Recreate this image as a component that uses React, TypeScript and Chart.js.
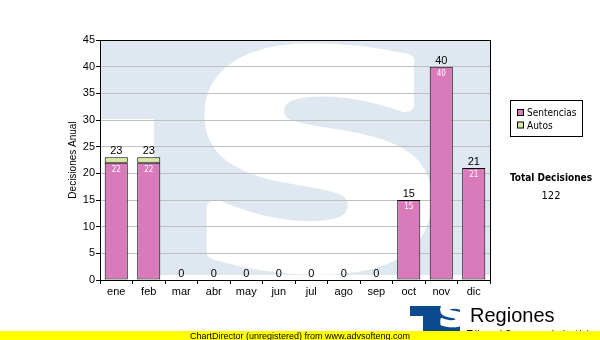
import React, { useEffect, useRef } from "react";
import { Chart, registerables } from "chart.js";
Chart.register(...registerables);

const categories = ["ene", "feb", "mar", "abr", "may", "jun", "jul", "ago", "sep", "oct", "nov", "dic"];
const sentencias = [22, 22, 0, 0, 0, 0, 0, 0, 0, 15, 40, 21];
const autos = [1, 1, 0, 0, 0, 0, 0, 0, 0, 0, 0, 0];
const seriesNames = ["Sentencias", "Autos"];
const seriesColors = ["#d97bbb", "#d6eb9e"];
const yMax = 45;
const yStep = 5;
const yTitle = "Decisiones Anual";
const totalTitle = "Total Decisiones";
const totalValue = 122;
const brandText = "Regiones";
const brandSub = "Tribunal Supremo de Justicia";
const footerText = "ChartDirector (unregistered) from www.advsofteng.com";

const SANS = '"Liberation Sans", Arial, sans-serif';
const VERD = '"DejaVu Sans Condensed", "DejaVu Sans", sans-serif';

function drawFatS(ctx: any, bx: number, by: number, bw: number, bh: number, stroke: number, color: string) {
  ctx.save();
  ctx.font = 'bold 300px "DejaVu Sans", sans-serif';
  const m = ctx.measureText("S");
  const gw = m.actualBoundingBoxLeft + m.actualBoundingBoxRight;
  const gh = m.actualBoundingBoxAscent + m.actualBoundingBoxDescent;
  const sx = (bw - stroke) / gw;
  const sy = (bh - stroke) / gh;
  ctx.translate(bx + stroke / 2, by + stroke / 2);
  ctx.scale(sx, sy);
  ctx.textAlign = "left";
  ctx.textBaseline = "alphabetic";
  ctx.fillStyle = color;
  ctx.strokeStyle = color;
  ctx.lineJoin = "round";
  ctx.lineWidth = stroke / ((sx + sy) / 2);
  ctx.fillText("S", m.actualBoundingBoxLeft, m.actualBoundingBoxAscent);
  ctx.strokeText("S", m.actualBoundingBoxLeft, m.actualBoundingBoxAscent);
  ctx.restore();
}

const watermark = {
  id: "watermark",
  beforeDraw(chart: any) {
    const { ctx, chartArea: a } = chart;
    const w = a.right - a.left;
    const h = a.bottom - a.top;
    ctx.save();
    ctx.beginPath();
    ctx.rect(a.left, a.top, w, h);
    ctx.clip();
    ctx.fillStyle = "#ffffff";
    ctx.fillRect(a.left, a.top, w, h);
    ctx.fillStyle = "#dfe8f1";
    ctx.fillRect(a.left, a.top, w, h - 5);
    ctx.fillStyle = "#ffffff";
    ctx.fillRect(a.left, a.top + 79, 54, h);
    drawFatS(ctx, a.left + 102, a.top, 232, 236, 16, "#ffffff");
    ctx.restore();
  },
};

const labels = {
  id: "labels",
  afterDatasetsDraw(chart: any) {
    const { ctx } = chart;
    const y = chart.scales.y;
    const x = chart.scales.x;
    ctx.save();
    categories.forEach((_, i) => {
      const cx = x.getPixelForValue(i);
      const total = sentencias[i] + autos[i];
      ctx.textAlign = "center";
      ctx.textBaseline = "alphabetic";
      ctx.fillStyle = "#000";
      ctx.font = `11px ${SANS}`;
      ctx.fillText(String(total), cx, y.getPixelForValue(total) - 3);
      if (sentencias[i] > 0) {
        ctx.fillStyle = "#ffffff";
        ctx.font = `8px ${VERD}`;
        ctx.textBaseline = "middle";
        ctx.fillText(String(sentencias[i]), cx, y.getPixelForValue(sentencias[i]) + 7);
      }
    });
    ctx.restore();
  },
};

const decor = {
  id: "decor",
  afterDraw(chart: any) {
    const { ctx, chartArea: a } = chart;
    ctx.save();
    // plot frame
    ctx.strokeStyle = "#000";
    ctx.lineWidth = 1;
    ctx.strokeRect(Math.round(a.left) + 0.5, Math.round(a.top) + 0.5, Math.round(a.right - a.left), Math.round(a.bottom - a.top));
    // legend box
    ctx.fillStyle = "#fff";
    ctx.fillRect(510.5, 100.5, 72, 36);
    ctx.strokeRect(510.5, 100.5, 72, 36);
    ctx.font = `10px ${VERD}`;
    ctx.textAlign = "left";
    ctx.textBaseline = "middle";
    seriesNames.forEach((n, i) => {
      const yy = 113 + i * 12.5;
      ctx.fillStyle = seriesColors[i];
      ctx.fillRect(517.5, yy - 3.5, 6, 6);
      ctx.strokeStyle = "#000";
      ctx.strokeRect(517.5, yy - 3.5, 6, 6);
      ctx.fillStyle = "#000";
      ctx.fillText(n, 527, yy + 0.5);
    });
    // total
    ctx.textAlign = "center";
    ctx.font = `bold 10px ${VERD}`;
    ctx.fillText(totalTitle, 551, 178);
    ctx.font = `11px ${VERD}`;
    ctx.fillText(String(totalValue), 551, 196);
    // logo
    ctx.save();
    ctx.beginPath();
    ctx.rect(410, 306, 50, 30);
    ctx.clip();
    ctx.fillStyle = "#0b4a8e";
    ctx.fillRect(410, 306, 50, 30);
    ctx.fillStyle = "#fff";
    ctx.fillRect(410, 316, 13, 25);
    drawFatS(ctx, 426, 308, 26, 28, 3, "#ffffff");
    ctx.restore();
    ctx.fillStyle = "#000";
    ctx.textAlign = "left";
    ctx.textBaseline = "alphabetic";
    ctx.font = `20px ${SANS}`;
    ctx.fillText(brandText, 470, 322);
    ctx.font = `10px ${VERD}`;
    ctx.fillText(brandSub, 467, 338);
    // footer
    ctx.fillStyle = "#ffff00";
    ctx.fillRect(0, 331, 600, 9);
    ctx.fillStyle = "#000";
    ctx.font = `9px ${SANS}`;
    ctx.fillText(footerText, 190, 339);
    ctx.restore();
  },
};

export default function App() {
  const ref = useRef<HTMLCanvasElement>(null);
  useEffect(() => {
    document.body.style.margin = "0";
    const chart = new Chart(ref.current!, {
      type: "bar",
      data: {
        labels: categories,
        datasets: [
          {
            label: seriesNames[0],
            data: sentencias.map((v) => (v > 0 ? v : null)),
            backgroundColor: seriesColors[0],
            borderColor: "#000",
            borderWidth: 1,
            borderSkipped: false,
            barPercentage: 0.71,
            categoryPercentage: 1,
          },
          {
            label: seriesNames[1],
            data: autos.map((v) => (v > 0 ? v : null)),
            backgroundColor: seriesColors[1],
            borderColor: "#000",
            borderWidth: 1,
            borderSkipped: false,
            barPercentage: 0.71,
            categoryPercentage: 1,
          },
        ],
      },
      options: {
        responsive: false,
        animation: false,
        layout: { padding: { left: 60, right: 110, top: 40, bottom: 40 } },
        plugins: { legend: { display: false }, tooltip: { enabled: false } },
        scales: {
          x: {
            stacked: true,
            offset: true,
            grid: { display: true, drawOnChartArea: false, tickLength: 4, tickColor: "#000" },
            border: { color: "#000" },
            ticks: { color: "#000", font: { family: SANS, size: 11 }, padding: 1, maxRotation: 0, autoSkip: false },
            afterFit: (s: any) => { s.height = 20; },
          },
          y: {
            stacked: true,
            min: 0,
            max: yMax,
            grid: { color: "#c0c0c0", tickLength: 4, tickColor: "#000" },
            border: { color: "#000" },
            ticks: { stepSize: yStep, color: "#000", font: { family: SANS, size: 11 }, padding: 1 },
            title: { display: true, text: yTitle, color: "#000", font: { family: SANS, size: 10 }, padding: { top: 7, bottom: 0 } },
            afterFit: (s: any) => { s.width = 40; },
          },
        },
      },
      plugins: [watermark, labels, decor],
    });
    return () => chart.destroy();
  }, []);
  return <canvas ref={ref} width={600} height={340} style={{ display: "block" }} />;
}
